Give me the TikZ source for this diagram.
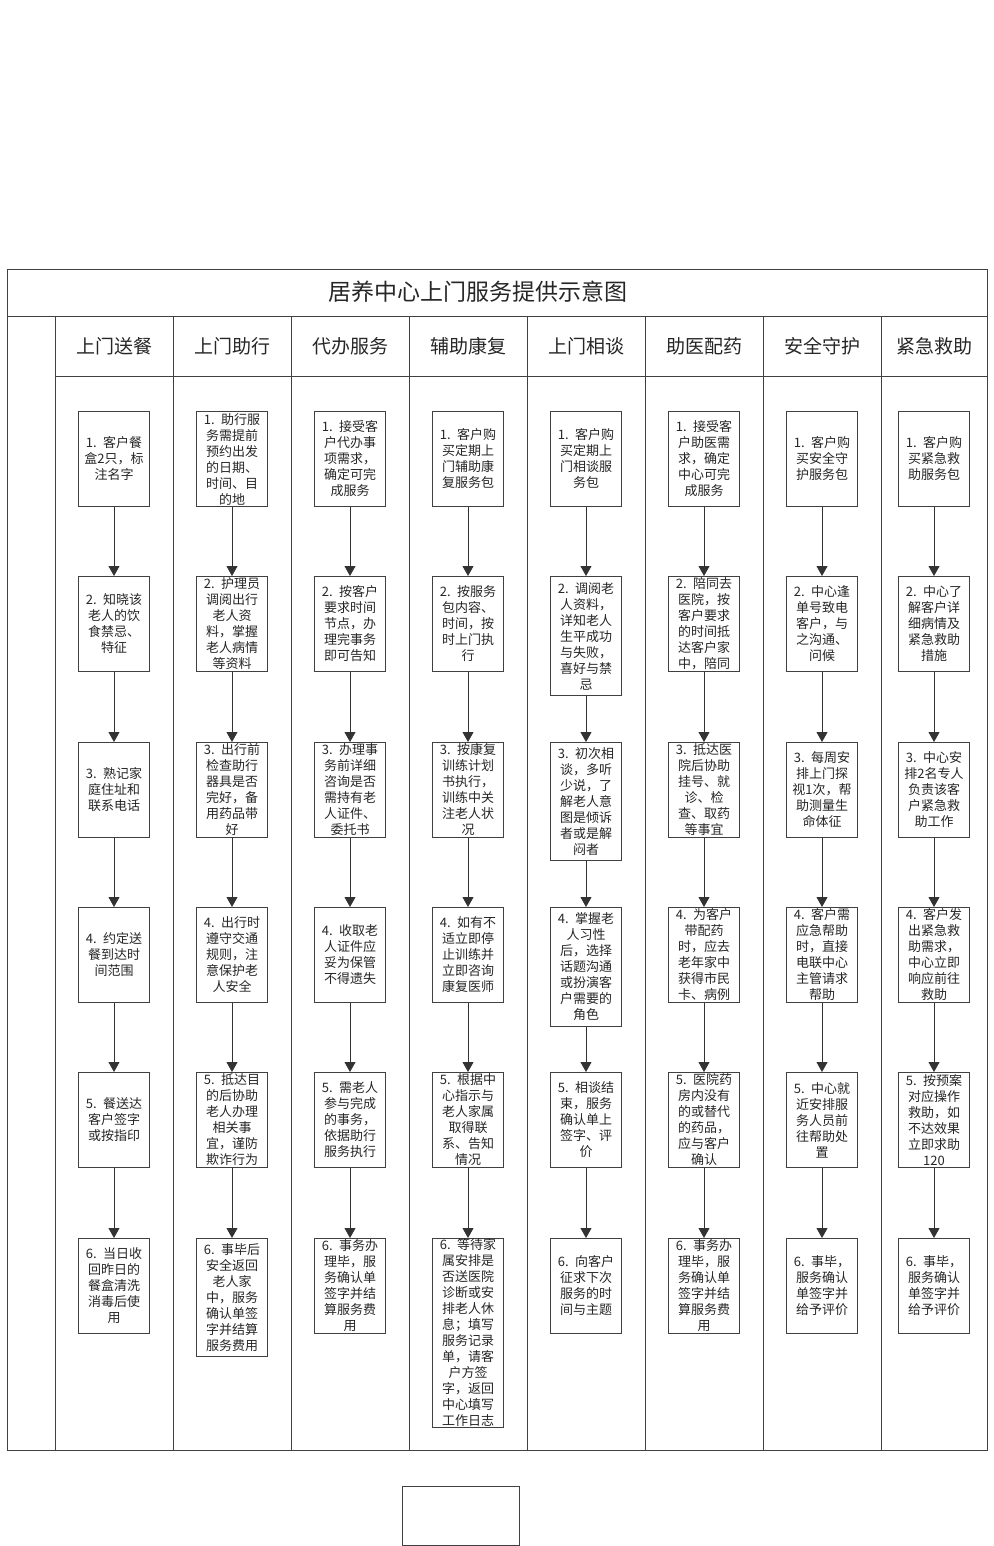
\documentclass[tikz,border=0pt]{standalone}
\usepackage{fontspec}
\newfontfamily\cjk{Noto Sans CJK SC}
\usetikzlibrary{arrows.meta}
\begin{document}
\begin{tikzpicture}[x=1pt,y=-1pt,
  frame/.style={draw=black!75, line width=0.9pt},
  stepbox/.style={draw=black!75, line width=0.9pt, fill=white, text=black!85,
    font=\cjk\fontsize{13}{16}\selectfont, text width=69pt, inner xsep=1pt,
    inner ysep=0pt, align=center, anchor=north, minimum height=95pt},
  flow/.style={draw=black!80, line width=0.9pt, -{Triangle[width=11pt,length=10pt]}},
  head/.style={font=\cjk\fontsize{19}{22}\selectfont, text=black!85},
  titlestyle/.style={font=\cjk\fontsize{23}{26}\selectfont, text=black!85},
  footbox/.style={draw=black!75, line width=0.9pt, minimum width=117pt, minimum height=59pt, inner sep=0pt},
]
\useasboundingbox (0,0) rectangle (993,1546);
% frame
\draw[frame] (7,269) rectangle (987,1450);
\draw[frame] (7,316) -- (987,316);
\draw[frame] (55,376) -- (987,376);
\foreach \xx in {55,173,291,409,527,645,763,881}
  \draw[frame] (\xx,316) -- (\xx,1450);
% title and headers
\node[titlestyle] (title) at (478,292) {居养中心上门服务提供示意图};
\node[head] (h1) at (114,346) {上门送餐};
\node[head] (h2) at (232,346) {上门助行};
\node[head] (h3) at (350,346) {代办服务};
\node[head] (h4) at (468,346) {辅助康复};
\node[head] (h5) at (586,346) {上门相谈};
\node[head] (h6) at (704,346) {助医配药};
\node[head] (h7) at (822,346) {安全守护};
\node[head] (h8) at (934,346) {紧急救助};
% column 1
\node[stepbox] (c1-1) at (114,411) {1. 客户餐\\盒2只，标\\注名字};
\node[stepbox] (c1-2) at (114,576) {2. 知晓该\\老人的饮\\食禁忌、\\特征};
\node[stepbox] (c1-3) at (114,742) {3. 熟记家\\庭住址和\\联系电话};
\node[stepbox] (c1-4) at (114,907) {4. 约定送\\餐到达时\\间范围};
\node[stepbox] (c1-5) at (114,1072) {5. 餐送达\\客户签字\\或按指印};
\node[stepbox] (c1-6) at (114,1238) {6. 当日收\\回昨日的\\餐盒清洗\\消毒后使\\用};
% column 2
\node[stepbox] (c2-1) at (232,411) {1. 助行服\\务需提前\\预约出发\\的日期、\\时间、目\\的地};
\node[stepbox] (c2-2) at (232,576) {2. 护理员\\调阅出行\\老人资\\料，掌握\\老人病情\\等资料};
\node[stepbox] (c2-3) at (232,742) {3. 出行前\\检查助行\\器具是否\\完好，备\\用药品带\\好};
\node[stepbox] (c2-4) at (232,907) {4. 出行时\\遵守交通\\规则，注\\意保护老\\人安全};
\node[stepbox] (c2-5) at (232,1072) {5. 抵达目\\的后协助\\老人办理\\相关事\\宜，谨防\\欺诈行为};
\node[stepbox, minimum height=118pt] (c2-6) at (232,1238) {6. 事毕后\\安全返回\\老人家\\中，服务\\确认单签\\字并结算\\服务费用};
% column 3
\node[stepbox] (c3-1) at (350,411) {1. 接受客\\户代办事\\项需求，\\确定可完\\成服务};
\node[stepbox] (c3-2) at (350,576) {2. 按客户\\要求时间\\节点，办\\理完事务\\即可告知};
\node[stepbox] (c3-3) at (350,742) {3. 办理事\\务前详细\\咨询是否\\需持有老\\人证件、\\委托书};
\node[stepbox] (c3-4) at (350,907) {4. 收取老\\人证件应\\妥为保管\\不得遗失};
\node[stepbox] (c3-5) at (350,1072) {5. 需老人\\参与完成\\的事务，\\依据助行\\服务执行};
\node[stepbox] (c3-6) at (350,1238) {6. 事务办\\理毕，服\\务确认单\\签字并结\\算服务费\\用};
% column 4
\node[stepbox] (c4-1) at (468,411) {1. 客户购\\买定期上\\门辅助康\\复服务包};
\node[stepbox] (c4-2) at (468,576) {2. 按服务\\包内容、\\时间，按\\时上门执\\行};
\node[stepbox] (c4-3) at (468,742) {3. 按康复\\训练计划\\书执行，\\训练中关\\注老人状\\况};
\node[stepbox] (c4-4) at (468,907) {4. 如有不\\适立即停\\止训练并\\立即咨询\\康复医师};
\node[stepbox] (c4-5) at (468,1072) {5. 根据中\\心指示与\\老人家属\\取得联\\系、告知\\情况};
\node[stepbox, minimum height=189pt] (c4-6) at (468,1238) {6. 等待家\\属安排是\\否送医院\\诊断或安\\排老人休\\息；填写\\服务记录\\单，请客\\户方签\\字，返回\\中心填写\\工作日志};
% column 5
\node[stepbox] (c5-1) at (586,411) {1. 客户购\\买定期上\\门相谈服\\务包};
\node[stepbox, minimum height=119pt] (c5-2) at (586,576) {2. 调阅老\\人资料，\\详知老人\\生平成功\\与失败，\\喜好与禁\\忌};
\node[stepbox, minimum height=118pt] (c5-3) at (586,742) {3. 初次相\\谈，多听\\少说，了\\解老人意\\图是倾诉\\者或是解\\闷者};
\node[stepbox, minimum height=119pt] (c5-4) at (586,907) {4. 掌握老\\人习性\\后，选择\\话题沟通\\或扮演客\\户需要的\\角色};
\node[stepbox] (c5-5) at (586,1072) {5. 相谈结\\束，服务\\确认单上\\签字、评\\价};
\node[stepbox] (c5-6) at (586,1238) {6. 向客户\\征求下次\\服务的时\\间与主题};
% column 6
\node[stepbox] (c6-1) at (704,411) {1. 接受客\\户助医需\\求，确定\\中心可完\\成服务};
\node[stepbox] (c6-2) at (704,576) {2. 陪同去\\医院，按\\客户要求\\的时间抵\\达客户家\\中，陪同};
\node[stepbox] (c6-3) at (704,742) {3. 抵达医\\院后协助\\挂号、就\\诊、检\\查、取药\\等事宜};
\node[stepbox] (c6-4) at (704,907) {4. 为客户\\带配药\\时，应去\\老年家中\\获得市民\\卡、病例};
\node[stepbox] (c6-5) at (704,1072) {5. 医院药\\房内没有\\的或替代\\的药品，\\应与客户\\确认};
\node[stepbox] (c6-6) at (704,1238) {6. 事务办\\理毕，服\\务确认单\\签字并结\\算服务费\\用};
% column 7
\node[stepbox] (c7-1) at (822,411) {1. 客户购\\买安全守\\护服务包};
\node[stepbox] (c7-2) at (822,576) {2. 中心逢\\单号致电\\客户，与\\之沟通、\\问候};
\node[stepbox] (c7-3) at (822,742) {3. 每周安\\排上门探\\视1次，帮\\助测量生\\命体征};
\node[stepbox] (c7-4) at (822,907) {4. 客户需\\应急帮助\\时，直接\\电联中心\\主管请求\\帮助};
\node[stepbox] (c7-5) at (822,1072) {5. 中心就\\近安排服\\务人员前\\往帮助处\\置};
\node[stepbox] (c7-6) at (822,1238) {6. 事毕，\\服务确认\\单签字并\\给予评价};
% column 8
\node[stepbox] (c8-1) at (934,411) {1. 客户购\\买紧急救\\助服务包};
\node[stepbox] (c8-2) at (934,576) {2. 中心了\\解客户详\\细病情及\\紧急救助\\措施};
\node[stepbox] (c8-3) at (934,742) {3. 中心安\\排2名专人\\负责该客\\户紧急救\\助工作};
\node[stepbox] (c8-4) at (934,907) {4. 客户发\\出紧急救\\助需求，\\中心立即\\响应前往\\救助};
\node[stepbox] (c8-5) at (934,1072) {5. 按预案\\对应操作\\救助，如\\不达效果\\立即求助\\120};
\node[stepbox] (c8-6) at (934,1238) {6. 事毕，\\服务确认\\单签字并\\给予评价};
% arrows
\foreach \c in {1,...,8}
  \foreach \r/\n in {1/2,2/3,3/4,4/5,5/6}
    \draw[flow] (c\c-\r.south) -- (c\c-\n.north);
% footer box
\node[footbox] (foot) at (460.5,1515.5) {};
\end{tikzpicture}
\end{document}
